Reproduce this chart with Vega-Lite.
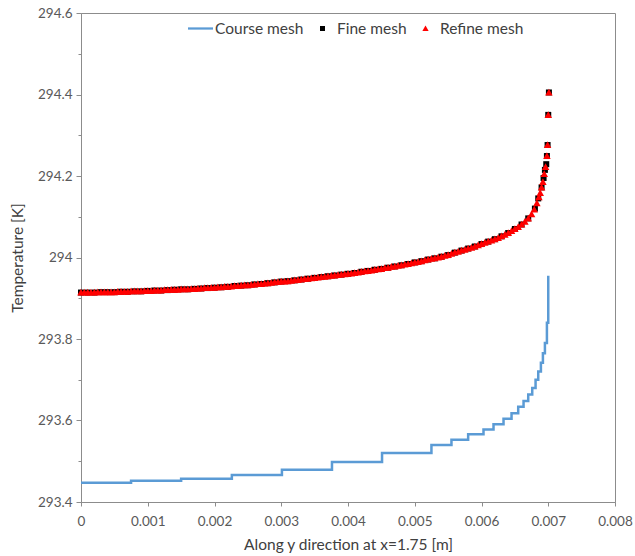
{
  "$schema": "https://vega.github.io/schema/vega-lite/v6.json",
  "width": 534,
  "height": 489,
  "autosize": {"type": "none"},
  "padding": {"left": 81, "top": 13, "right": 20, "bottom": 54},
  "background": "white",
  "config": {
    "view": {"stroke": "#8c8c8c", "strokeWidth": 1},
    "font": "Lato",
    "axis": {
      "domainColor": "#8c8c8c",
      "tickColor": "#8c8c8c",
      "labelColor": "#595959",
      "titleColor": "#404040",
      "labelFont": "Lato",
      "titleFont": "Lato",
      "labelFontSize": 13.5,
      "titleFontSize": 15.5,
      "titleFontWeight": "normal",
      "grid": false,
      "labelOverlap": false,
      "labelBound": false
    }
  },
  "datasets": {
    "course": [
      {"x": 0, "T": 293.447, "series": "Course mesh"},
      {"x": 0.00075, "T": 293.452, "series": "Course mesh"},
      {"x": 0.0015, "T": 293.457, "series": "Course mesh"},
      {"x": 0.00226, "T": 293.466, "series": "Course mesh"},
      {"x": 0.00301, "T": 293.479, "series": "Course mesh"},
      {"x": 0.00376, "T": 293.498, "series": "Course mesh"},
      {"x": 0.00451, "T": 293.52, "series": "Course mesh"},
      {"x": 0.00525, "T": 293.54, "series": "Course mesh"},
      {"x": 0.00555, "T": 293.553, "series": "Course mesh"},
      {"x": 0.0058, "T": 293.566, "series": "Course mesh"},
      {"x": 0.00603, "T": 293.578, "series": "Course mesh"},
      {"x": 0.00618, "T": 293.591, "series": "Course mesh"},
      {"x": 0.00633, "T": 293.604, "series": "Course mesh"},
      {"x": 0.00645, "T": 293.618, "series": "Course mesh"},
      {"x": 0.00655, "T": 293.634, "series": "Course mesh"},
      {"x": 0.00663, "T": 293.648, "series": "Course mesh"},
      {"x": 0.0067, "T": 293.664, "series": "Course mesh"},
      {"x": 0.00676, "T": 293.68, "series": "Course mesh"},
      {"x": 0.00681, "T": 293.7, "series": "Course mesh"},
      {"x": 0.00685, "T": 293.72, "series": "Course mesh"},
      {"x": 0.00689, "T": 293.742, "series": "Course mesh"},
      {"x": 0.00692, "T": 293.765, "series": "Course mesh"},
      {"x": 0.00695, "T": 293.79, "series": "Course mesh"},
      {"x": 0.00698, "T": 293.84, "series": "Course mesh"},
      {"x": 0.007, "T": 293.955, "series": "Course mesh"}
    ],
    "mesh": [
      {"x": 0, "T": 293.914, "series": "Fine mesh"},
      {"x": 0.0001, "T": 293.914, "series": "Fine mesh"},
      {"x": 0.0002, "T": 293.914, "series": "Fine mesh"},
      {"x": 0.0003, "T": 293.915, "series": "Fine mesh"},
      {"x": 0.0004, "T": 293.915, "series": "Fine mesh"},
      {"x": 0.0005, "T": 293.915, "series": "Fine mesh"},
      {"x": 0.0006, "T": 293.916, "series": "Fine mesh"},
      {"x": 0.0007, "T": 293.916, "series": "Fine mesh"},
      {"x": 0.0008, "T": 293.917, "series": "Fine mesh"},
      {"x": 0.0009, "T": 293.917, "series": "Fine mesh"},
      {"x": 0.001, "T": 293.918, "series": "Fine mesh"},
      {"x": 0.0011, "T": 293.919, "series": "Fine mesh"},
      {"x": 0.0012, "T": 293.919, "series": "Fine mesh"},
      {"x": 0.0013, "T": 293.92, "series": "Fine mesh"},
      {"x": 0.0014, "T": 293.921, "series": "Fine mesh"},
      {"x": 0.0015, "T": 293.922, "series": "Fine mesh"},
      {"x": 0.0016, "T": 293.922, "series": "Fine mesh"},
      {"x": 0.0017, "T": 293.923, "series": "Fine mesh"},
      {"x": 0.0018, "T": 293.924, "series": "Fine mesh"},
      {"x": 0.0019, "T": 293.925, "series": "Fine mesh"},
      {"x": 0.002, "T": 293.926, "series": "Fine mesh"},
      {"x": 0.0021, "T": 293.927, "series": "Fine mesh"},
      {"x": 0.0022, "T": 293.928, "series": "Fine mesh"},
      {"x": 0.0023, "T": 293.93, "series": "Fine mesh"},
      {"x": 0.0024, "T": 293.931, "series": "Fine mesh"},
      {"x": 0.0025, "T": 293.932, "series": "Fine mesh"},
      {"x": 0.0026, "T": 293.934, "series": "Fine mesh"},
      {"x": 0.0027, "T": 293.935, "series": "Fine mesh"},
      {"x": 0.0028, "T": 293.937, "series": "Fine mesh"},
      {"x": 0.0029, "T": 293.939, "series": "Fine mesh"},
      {"x": 0.003, "T": 293.941, "series": "Fine mesh"},
      {"x": 0.0031, "T": 293.942, "series": "Fine mesh"},
      {"x": 0.0032, "T": 293.944, "series": "Fine mesh"},
      {"x": 0.0033, "T": 293.946, "series": "Fine mesh"},
      {"x": 0.0034, "T": 293.948, "series": "Fine mesh"},
      {"x": 0.0035, "T": 293.95, "series": "Fine mesh"},
      {"x": 0.0036, "T": 293.952, "series": "Fine mesh"},
      {"x": 0.0037, "T": 293.954, "series": "Fine mesh"},
      {"x": 0.0038, "T": 293.956, "series": "Fine mesh"},
      {"x": 0.0039, "T": 293.958, "series": "Fine mesh"},
      {"x": 0.004, "T": 293.96, "series": "Fine mesh"},
      {"x": 0.0041, "T": 293.962, "series": "Fine mesh"},
      {"x": 0.0042, "T": 293.965, "series": "Fine mesh"},
      {"x": 0.0043, "T": 293.967, "series": "Fine mesh"},
      {"x": 0.0044, "T": 293.97, "series": "Fine mesh"},
      {"x": 0.0045, "T": 293.972, "series": "Fine mesh"},
      {"x": 0.0046, "T": 293.975, "series": "Fine mesh"},
      {"x": 0.0047, "T": 293.978, "series": "Fine mesh"},
      {"x": 0.0048, "T": 293.981, "series": "Fine mesh"},
      {"x": 0.0049, "T": 293.984, "series": "Fine mesh"},
      {"x": 0.005, "T": 293.988, "series": "Fine mesh"},
      {"x": 0.0051, "T": 293.991, "series": "Fine mesh"},
      {"x": 0.0052, "T": 293.995, "series": "Fine mesh"},
      {"x": 0.0053, "T": 293.998, "series": "Fine mesh"},
      {"x": 0.0054, "T": 294.002, "series": "Fine mesh"},
      {"x": 0.0055, "T": 294.006, "series": "Fine mesh"},
      {"x": 0.0056, "T": 294.012, "series": "Fine mesh"},
      {"x": 0.0057, "T": 294.017, "series": "Fine mesh"},
      {"x": 0.0058, "T": 294.022, "series": "Fine mesh"},
      {"x": 0.0059, "T": 294.027, "series": "Fine mesh"},
      {"x": 0.006, "T": 294.033, "series": "Fine mesh"},
      {"x": 0.0061, "T": 294.039, "series": "Fine mesh"},
      {"x": 0.0062, "T": 294.045, "series": "Fine mesh"},
      {"x": 0.0063, "T": 294.052, "series": "Fine mesh"},
      {"x": 0.0064, "T": 294.06, "series": "Fine mesh"},
      {"x": 0.0065, "T": 294.07, "series": "Fine mesh"},
      {"x": 0.0066, "T": 294.081, "series": "Fine mesh"},
      {"x": 0.0067, "T": 294.096, "series": "Fine mesh"},
      {"x": 0.0068, "T": 294.12, "series": "Fine mesh"},
      {"x": 0.00685, "T": 294.145, "series": "Fine mesh"},
      {"x": 0.0069, "T": 294.172, "series": "Fine mesh"},
      {"x": 0.00693, "T": 294.195, "series": "Fine mesh"},
      {"x": 0.00695, "T": 294.215, "series": "Fine mesh"},
      {"x": 0.00697, "T": 294.229, "series": "Fine mesh"},
      {"x": 0.00698, "T": 294.249, "series": "Fine mesh"},
      {"x": 0.00699, "T": 294.276, "series": "Fine mesh"},
      {"x": 0.007, "T": 294.35, "series": "Fine mesh"},
      {"x": 0.00701, "T": 294.405, "series": "Fine mesh"},
      {"x": 0, "T": 293.914, "series": "Refine mesh"},
      {"x": 0.00005, "T": 293.914, "series": "Refine mesh"},
      {"x": 0.0001, "T": 293.914, "series": "Refine mesh"},
      {"x": 0.00015, "T": 293.914, "series": "Refine mesh"},
      {"x": 0.0002, "T": 293.914, "series": "Refine mesh"},
      {"x": 0.00025, "T": 293.915, "series": "Refine mesh"},
      {"x": 0.0003, "T": 293.915, "series": "Refine mesh"},
      {"x": 0.00035, "T": 293.915, "series": "Refine mesh"},
      {"x": 0.0004, "T": 293.915, "series": "Refine mesh"},
      {"x": 0.00045, "T": 293.915, "series": "Refine mesh"},
      {"x": 0.0005, "T": 293.915, "series": "Refine mesh"},
      {"x": 0.00055, "T": 293.916, "series": "Refine mesh"},
      {"x": 0.0006, "T": 293.916, "series": "Refine mesh"},
      {"x": 0.00065, "T": 293.916, "series": "Refine mesh"},
      {"x": 0.0007, "T": 293.916, "series": "Refine mesh"},
      {"x": 0.00075, "T": 293.917, "series": "Refine mesh"},
      {"x": 0.0008, "T": 293.917, "series": "Refine mesh"},
      {"x": 0.00085, "T": 293.917, "series": "Refine mesh"},
      {"x": 0.0009, "T": 293.917, "series": "Refine mesh"},
      {"x": 0.00095, "T": 293.918, "series": "Refine mesh"},
      {"x": 0.001, "T": 293.918, "series": "Refine mesh"},
      {"x": 0.00105, "T": 293.918, "series": "Refine mesh"},
      {"x": 0.0011, "T": 293.919, "series": "Refine mesh"},
      {"x": 0.00115, "T": 293.919, "series": "Refine mesh"},
      {"x": 0.0012, "T": 293.919, "series": "Refine mesh"},
      {"x": 0.00125, "T": 293.92, "series": "Refine mesh"},
      {"x": 0.0013, "T": 293.92, "series": "Refine mesh"},
      {"x": 0.00135, "T": 293.921, "series": "Refine mesh"},
      {"x": 0.0014, "T": 293.921, "series": "Refine mesh"},
      {"x": 0.00145, "T": 293.921, "series": "Refine mesh"},
      {"x": 0.0015, "T": 293.922, "series": "Refine mesh"},
      {"x": 0.00155, "T": 293.922, "series": "Refine mesh"},
      {"x": 0.0016, "T": 293.922, "series": "Refine mesh"},
      {"x": 0.00165, "T": 293.923, "series": "Refine mesh"},
      {"x": 0.0017, "T": 293.923, "series": "Refine mesh"},
      {"x": 0.00175, "T": 293.924, "series": "Refine mesh"},
      {"x": 0.0018, "T": 293.924, "series": "Refine mesh"},
      {"x": 0.00185, "T": 293.925, "series": "Refine mesh"},
      {"x": 0.0019, "T": 293.925, "series": "Refine mesh"},
      {"x": 0.00195, "T": 293.926, "series": "Refine mesh"},
      {"x": 0.002, "T": 293.926, "series": "Refine mesh"},
      {"x": 0.00205, "T": 293.927, "series": "Refine mesh"},
      {"x": 0.0021, "T": 293.927, "series": "Refine mesh"},
      {"x": 0.00215, "T": 293.928, "series": "Refine mesh"},
      {"x": 0.0022, "T": 293.928, "series": "Refine mesh"},
      {"x": 0.00225, "T": 293.929, "series": "Refine mesh"},
      {"x": 0.0023, "T": 293.93, "series": "Refine mesh"},
      {"x": 0.00235, "T": 293.93, "series": "Refine mesh"},
      {"x": 0.0024, "T": 293.931, "series": "Refine mesh"},
      {"x": 0.00245, "T": 293.932, "series": "Refine mesh"},
      {"x": 0.0025, "T": 293.932, "series": "Refine mesh"},
      {"x": 0.00255, "T": 293.933, "series": "Refine mesh"},
      {"x": 0.0026, "T": 293.934, "series": "Refine mesh"},
      {"x": 0.00265, "T": 293.935, "series": "Refine mesh"},
      {"x": 0.0027, "T": 293.935, "series": "Refine mesh"},
      {"x": 0.00275, "T": 293.936, "series": "Refine mesh"},
      {"x": 0.0028, "T": 293.937, "series": "Refine mesh"},
      {"x": 0.00285, "T": 293.938, "series": "Refine mesh"},
      {"x": 0.0029, "T": 293.939, "series": "Refine mesh"},
      {"x": 0.00295, "T": 293.94, "series": "Refine mesh"},
      {"x": 0.003, "T": 293.941, "series": "Refine mesh"},
      {"x": 0.00305, "T": 293.941, "series": "Refine mesh"},
      {"x": 0.0031, "T": 293.942, "series": "Refine mesh"},
      {"x": 0.00315, "T": 293.943, "series": "Refine mesh"},
      {"x": 0.0032, "T": 293.944, "series": "Refine mesh"},
      {"x": 0.00325, "T": 293.945, "series": "Refine mesh"},
      {"x": 0.0033, "T": 293.946, "series": "Refine mesh"},
      {"x": 0.00335, "T": 293.947, "series": "Refine mesh"},
      {"x": 0.0034, "T": 293.948, "series": "Refine mesh"},
      {"x": 0.00345, "T": 293.949, "series": "Refine mesh"},
      {"x": 0.0035, "T": 293.95, "series": "Refine mesh"},
      {"x": 0.00355, "T": 293.951, "series": "Refine mesh"},
      {"x": 0.0036, "T": 293.952, "series": "Refine mesh"},
      {"x": 0.00365, "T": 293.953, "series": "Refine mesh"},
      {"x": 0.0037, "T": 293.954, "series": "Refine mesh"},
      {"x": 0.00375, "T": 293.955, "series": "Refine mesh"},
      {"x": 0.0038, "T": 293.956, "series": "Refine mesh"},
      {"x": 0.00385, "T": 293.957, "series": "Refine mesh"},
      {"x": 0.0039, "T": 293.958, "series": "Refine mesh"},
      {"x": 0.00395, "T": 293.959, "series": "Refine mesh"},
      {"x": 0.004, "T": 293.96, "series": "Refine mesh"},
      {"x": 0.00405, "T": 293.961, "series": "Refine mesh"},
      {"x": 0.0041, "T": 293.962, "series": "Refine mesh"},
      {"x": 0.00415, "T": 293.963, "series": "Refine mesh"},
      {"x": 0.0042, "T": 293.965, "series": "Refine mesh"},
      {"x": 0.00425, "T": 293.966, "series": "Refine mesh"},
      {"x": 0.0043, "T": 293.967, "series": "Refine mesh"},
      {"x": 0.00435, "T": 293.968, "series": "Refine mesh"},
      {"x": 0.0044, "T": 293.97, "series": "Refine mesh"},
      {"x": 0.00445, "T": 293.971, "series": "Refine mesh"},
      {"x": 0.0045, "T": 293.972, "series": "Refine mesh"},
      {"x": 0.00455, "T": 293.974, "series": "Refine mesh"},
      {"x": 0.0046, "T": 293.975, "series": "Refine mesh"},
      {"x": 0.00465, "T": 293.977, "series": "Refine mesh"},
      {"x": 0.0047, "T": 293.978, "series": "Refine mesh"},
      {"x": 0.00475, "T": 293.98, "series": "Refine mesh"},
      {"x": 0.0048, "T": 293.981, "series": "Refine mesh"},
      {"x": 0.00485, "T": 293.983, "series": "Refine mesh"},
      {"x": 0.0049, "T": 293.984, "series": "Refine mesh"},
      {"x": 0.00495, "T": 293.986, "series": "Refine mesh"},
      {"x": 0.005, "T": 293.988, "series": "Refine mesh"},
      {"x": 0.00505, "T": 293.989, "series": "Refine mesh"},
      {"x": 0.0051, "T": 293.991, "series": "Refine mesh"},
      {"x": 0.00515, "T": 293.993, "series": "Refine mesh"},
      {"x": 0.0052, "T": 293.995, "series": "Refine mesh"},
      {"x": 0.00525, "T": 293.997, "series": "Refine mesh"},
      {"x": 0.0053, "T": 293.998, "series": "Refine mesh"},
      {"x": 0.00535, "T": 294.0, "series": "Refine mesh"},
      {"x": 0.0054, "T": 294.002, "series": "Refine mesh"},
      {"x": 0.00545, "T": 294.004, "series": "Refine mesh"},
      {"x": 0.0055, "T": 294.006, "series": "Refine mesh"},
      {"x": 0.00555, "T": 294.009, "series": "Refine mesh"},
      {"x": 0.0056, "T": 294.012, "series": "Refine mesh"},
      {"x": 0.00565, "T": 294.014, "series": "Refine mesh"},
      {"x": 0.0057, "T": 294.017, "series": "Refine mesh"},
      {"x": 0.00575, "T": 294.019, "series": "Refine mesh"},
      {"x": 0.0058, "T": 294.022, "series": "Refine mesh"},
      {"x": 0.00585, "T": 294.024, "series": "Refine mesh"},
      {"x": 0.0059, "T": 294.027, "series": "Refine mesh"},
      {"x": 0.00595, "T": 294.03, "series": "Refine mesh"},
      {"x": 0.006, "T": 294.033, "series": "Refine mesh"},
      {"x": 0.00605, "T": 294.036, "series": "Refine mesh"},
      {"x": 0.0061, "T": 294.039, "series": "Refine mesh"},
      {"x": 0.00615, "T": 294.042, "series": "Refine mesh"},
      {"x": 0.0062, "T": 294.045, "series": "Refine mesh"},
      {"x": 0.00625, "T": 294.048, "series": "Refine mesh"},
      {"x": 0.0063, "T": 294.052, "series": "Refine mesh"},
      {"x": 0.00635, "T": 294.056, "series": "Refine mesh"},
      {"x": 0.0064, "T": 294.06, "series": "Refine mesh"},
      {"x": 0.00645, "T": 294.065, "series": "Refine mesh"},
      {"x": 0.0065, "T": 294.07, "series": "Refine mesh"},
      {"x": 0.00655, "T": 294.075, "series": "Refine mesh"},
      {"x": 0.0066, "T": 294.081, "series": "Refine mesh"},
      {"x": 0.00665, "T": 294.088, "series": "Refine mesh"},
      {"x": 0.0067, "T": 294.096, "series": "Refine mesh"},
      {"x": 0.00675, "T": 294.106, "series": "Refine mesh"},
      {"x": 0.00679, "T": 294.118, "series": "Refine mesh"},
      {"x": 0.00683, "T": 294.133, "series": "Refine mesh"},
      {"x": 0.00686, "T": 294.148, "series": "Refine mesh"},
      {"x": 0.00688, "T": 294.158, "series": "Refine mesh"},
      {"x": 0.0069, "T": 294.172, "series": "Refine mesh"},
      {"x": 0.00692, "T": 294.185, "series": "Refine mesh"},
      {"x": 0.00694, "T": 294.205, "series": "Refine mesh"},
      {"x": 0.00696, "T": 294.222, "series": "Refine mesh"},
      {"x": 0.00698, "T": 294.249, "series": "Refine mesh"},
      {"x": 0.00699, "T": 294.276, "series": "Refine mesh"},
      {"x": 0.007, "T": 294.35, "series": "Refine mesh"},
      {"x": 0.00701, "T": 294.405, "series": "Refine mesh"}
    ]
  },
  "layer": [
    {
      "data": {"name": "course"},
      "mark": {"type": "line", "interpolate": "step-after", "strokeWidth": 2.5},
      "encoding": {
        "x": {
          "field": "x",
          "type": "quantitative",
          "scale": {"domain": [0, 0.008], "nice": false, "zero": false},
          "axis": {
            "title": "Along y direction at x=1.75 [m]",
            "values": [0, 0.0005, 0.001, 0.0015, 0.002, 0.0025, 0.003, 0.0035, 0.004, 0.0045, 0.005, 0.0055, 0.006, 0.0065, 0.007, 0.0075, 0.008],
            "labelExpr": "abs(datum.value*1000 - round(datum.value*1000)) < 1e-6 ? format(datum.value, '~f') : ''",
            "tickSize": {"condition": {"test": "abs(datum.value*1000 - round(datum.value*1000)) < 1e-6", "value": 4}, "value": 2},
            "labelFlush": false,
            "labelPadding": 8,
            "titlePadding": 10
          }
        },
        "y": {
          "field": "T",
          "type": "quantitative",
          "scale": {"domain": [293.4, 294.6], "nice": false, "zero": false},
          "axis": {
            "title": "Temperature [K]",
            "values": [293.4, 293.45, 293.5, 293.55, 293.6, 293.65, 293.7, 293.75, 293.8, 293.85, 293.9, 293.95, 294, 294.05, 294.1, 294.15, 294.2, 294.25, 294.3, 294.35, 294.4, 294.45, 294.5, 294.55, 294.6],
            "labelExpr": "abs(datum.value*5 - round(datum.value*5)) < 1e-6 ? format(datum.value, '~f') : ''",
            "tickSize": {"condition": {"test": "abs(datum.value*5 - round(datum.value*5)) < 1e-6", "value": 5}, "value": 3},
            "labelPadding": 4,
            "titlePadding": 12
          }
        },
        "color": {
          "field": "series",
          "type": "nominal",
          "scale": {"domain": ["Course mesh", "Fine mesh", "Refine mesh"], "range": ["#5b9bd5", "#000000", "#ff0000"]},
          "legend": {
            "orient": "none",
            "legendX": 107,
            "legendY": 3,
            "direction": "horizontal",
            "title": null,
            "symbolSize": 625,
            "symbolStrokeWidth": 0,
            "symbolOpacity": 1,
            "labelOffset": 2,
            "columnPadding": 6,
            "gridAlign": "none",
            "labelFont": "Lato",
            "labelFontSize": 15.5,
            "labelColor": "#404040",
            "padding": 0
          }
        }
      }
    },
    {
      "data": {"name": "mesh"},
      "mark": {"type": "point", "filled": true, "size": 900, "opacity": 1, "strokeWidth": 0},
      "encoding": {
        "x": {"field": "x", "type": "quantitative"},
        "y": {"field": "T", "type": "quantitative"},
        "color": {"field": "series", "type": "nominal"},
        "shape": {
          "field": "series",
          "type": "nominal",
          "scale": {
            "domain": ["Course mesh", "Fine mesh", "Refine mesh"],
            "range": ["M-1,-0.09H1V0.09H-1Z", "M-0.2,-0.2H0.2V0.2H-0.2Z", "M0,-0.25L0.25,0.2L-0.25,0.2Z"]
          },
          "legend": {
            "orient": "none",
            "legendX": 107,
            "legendY": 3,
            "direction": "horizontal",
            "title": null,
            "symbolSize": 625,
            "symbolStrokeWidth": 0,
            "symbolOpacity": 1,
            "labelOffset": 2,
            "columnPadding": 6,
            "gridAlign": "none",
            "labelFont": "Lato",
            "labelFontSize": 15.5,
            "labelColor": "#404040",
            "padding": 0
          }
        }
      }
    }
  ]
}
